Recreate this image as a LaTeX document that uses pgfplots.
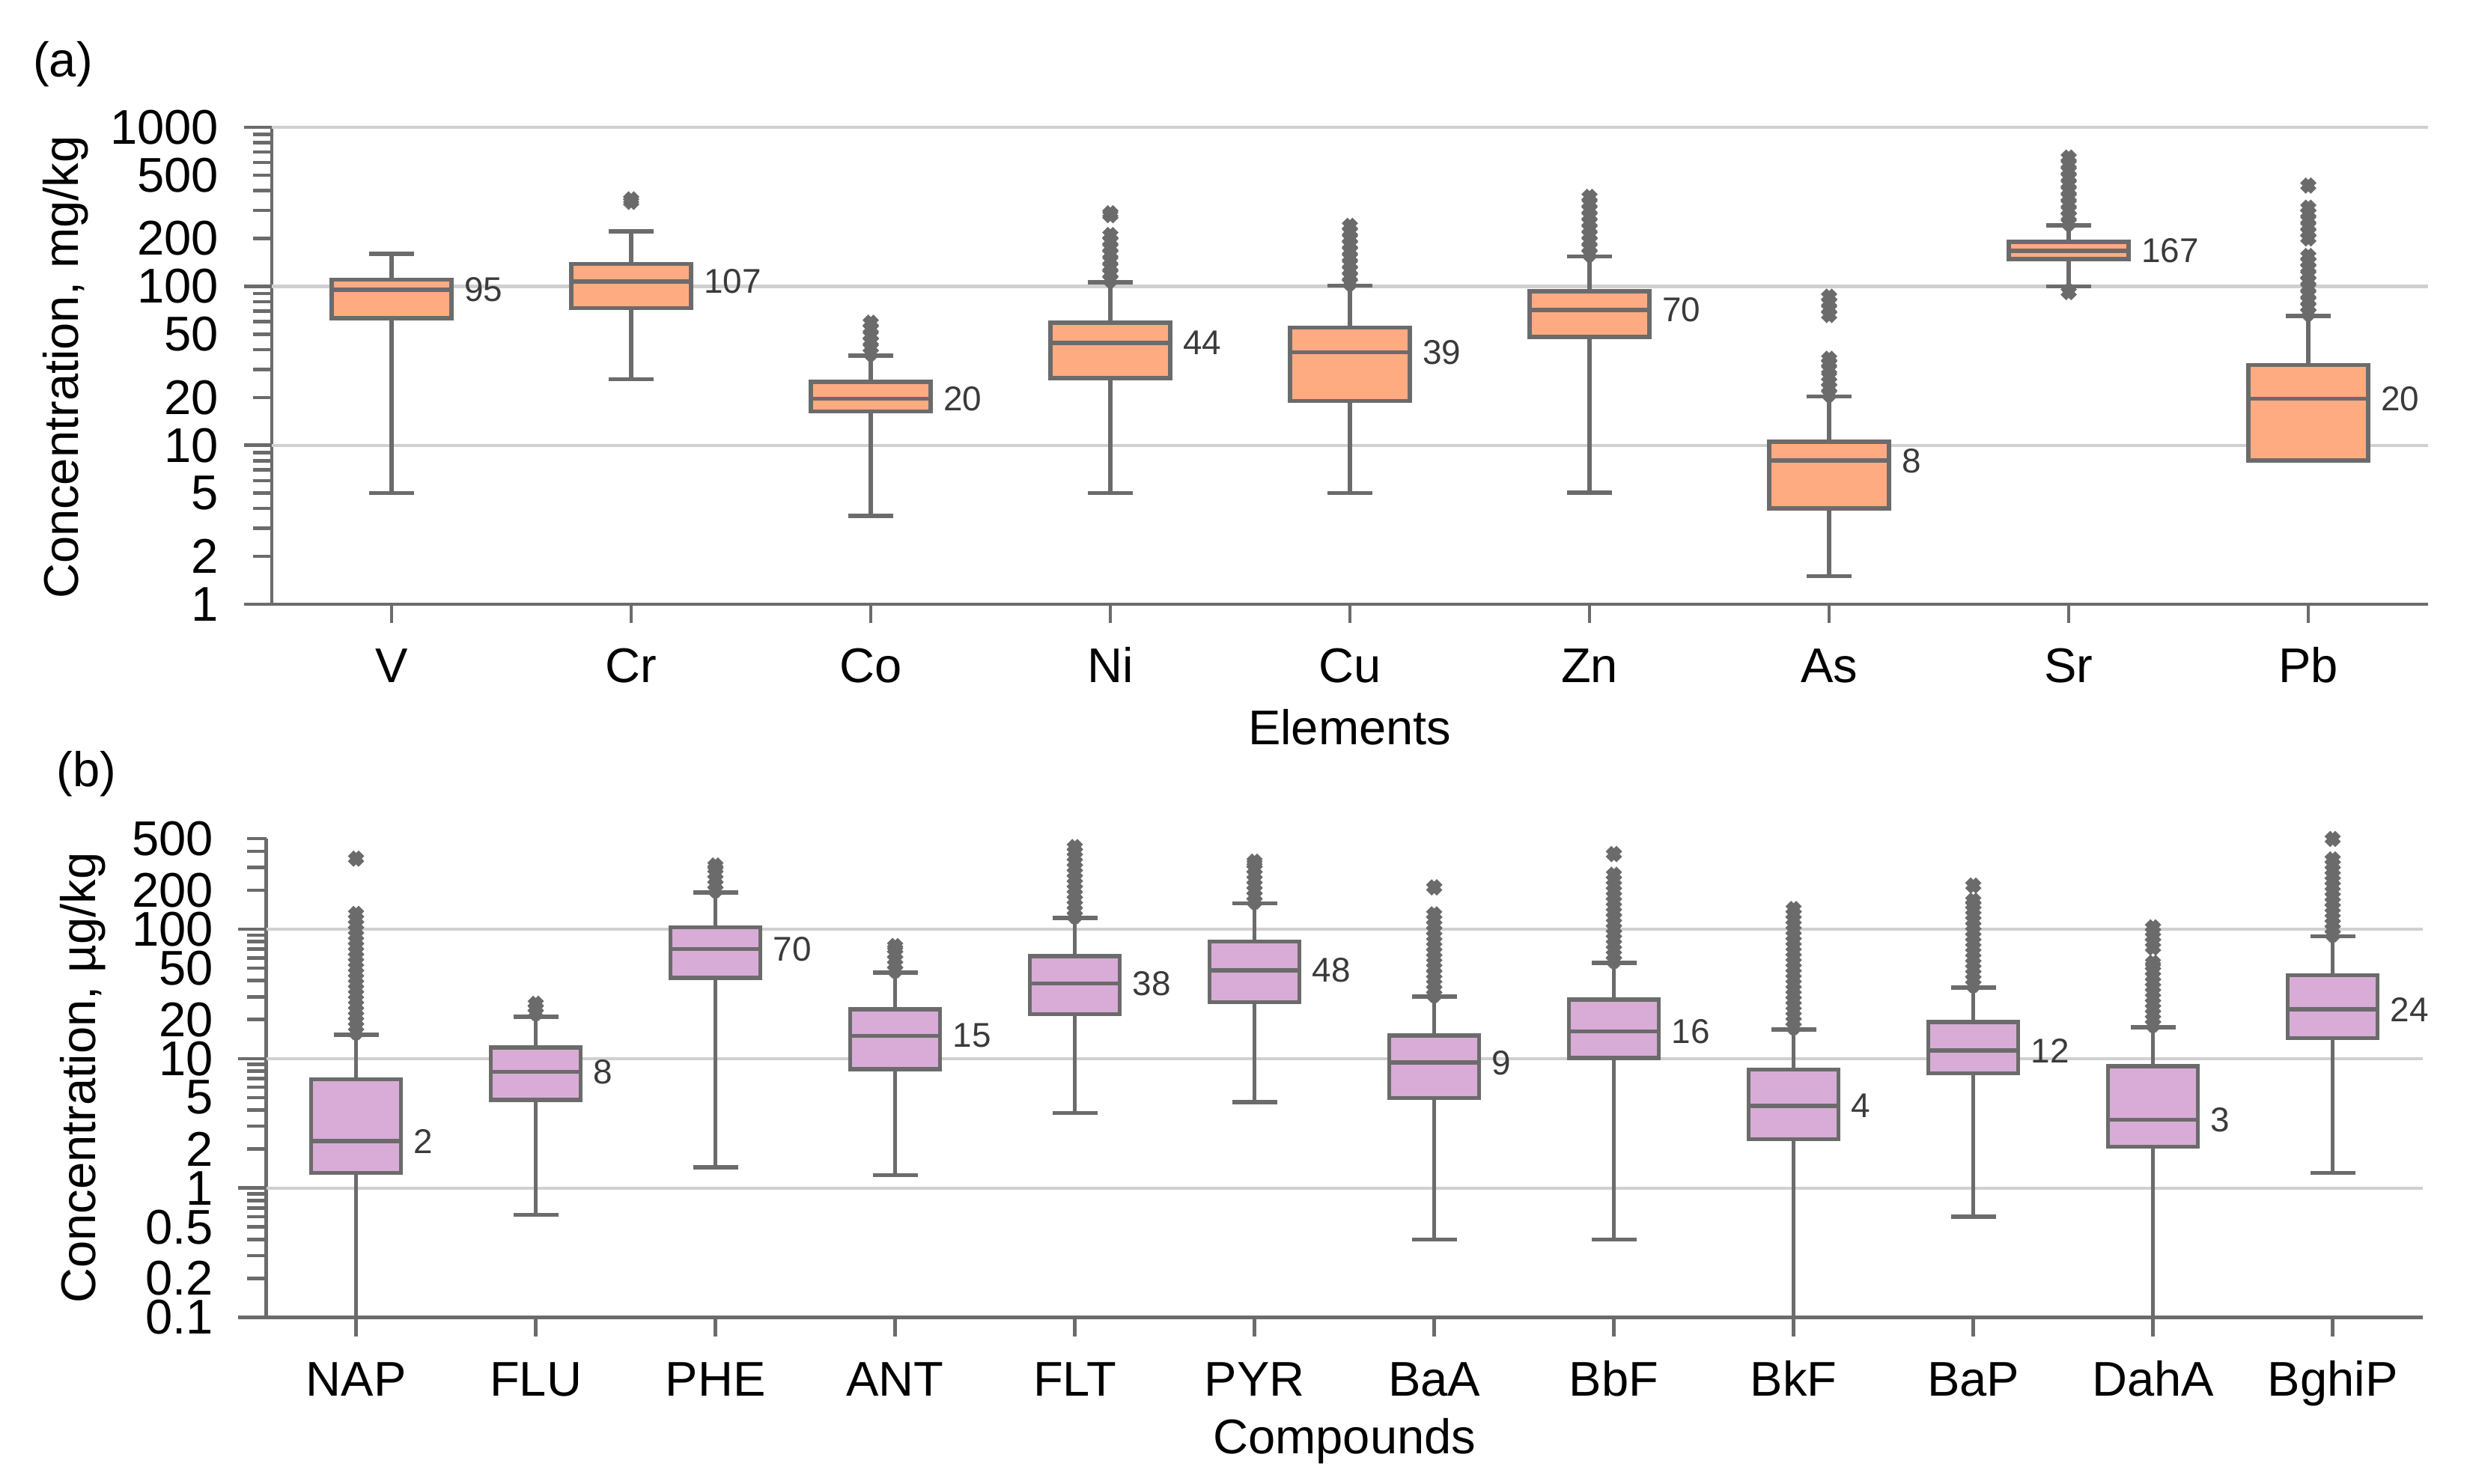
\documentclass[border=0pt]{standalone}
\usepackage{pgfplots}
\pgfplotsset{compat=1.18}
\usepackage{fontspec}
\setmainfont{Liberation Sans}
\definecolor{edge}{HTML}{6B6B6B}
\definecolor{gridc}{HTML}{D0D0D0}
\definecolor{orangef}{HTML}{FFAB82}
\definecolor{purplef}{HTML}{D8ACD6}
\definecolor{lab}{HTML}{3A3A3A}
% #1 position, #2 lower whisker, #3 lower quartile, #4 median, #5 upper quartile, #6 upper whisker
\newcommand\BOX[6]{%
 \pgfmathsetmacro\xa{#1-0.25}\pgfmathsetmacro\xb{#1+0.25}%
 \pgfmathsetmacro\wa{#1-\wke}\pgfmathsetmacro\wb{#1+\wke}%
 \addplot[draw=edge, line width=1.05pt, mark=none] coordinates {(#1,#5) (#1,#6)};
 \addplot[draw=edge, line width=1.05pt, mark=none] coordinates {(#1,#2) (#1,#3)};
 \addplot[draw=edge, line width=1.05pt, mark=none] coordinates {(\wa,#6) (\wb,#6)};
 \addplot[draw=edge, line width=1.05pt, mark=none] coordinates {(\wa,#2) (\wb,#2)};
 \addplot[fill=\boxfill, draw=edge, line width=1.05pt, mark=none] coordinates {(\xa,#3) (\xb,#3) (\xb,#5) (\xa,#5)} -- cycle;
 \addplot[draw=edge, line width=1.05pt, mark=none] coordinates {(\xa,#4) (\xb,#4)};
}
% #1 position, #2 outlier values
\newcommand\OUT[2]{%
 \addplot[only marks, mark=x, mark size=1.9pt, mark options={draw=edge, line width=2pt, solid}]
   table[row sep=\\, x expr=#1, y index=0] {y\\ #2};
}
\begin{document}
\fontsize{12.2pt}{14pt}\selectfont
\begin{tikzpicture}
\useasboundingbox (0,0) rectangle (617.8pt,-371.6pt);
% ---------------- (a) ----------------
\def\boxfill{orangef}\def\wke{0.095}
\begin{axis}[at={(68.06pt,-31.88pt)}, anchor=north west,
  scale only axis, width=540pt, height=119.44pt, ymode=log,
  xmin=-0.5, xmax=8.5, ymin=1, ymax=1000,
  axis lines=left, axis line style={-, draw=edge, line width=0.85pt},
  tick align=outside, major tick length=4.7pt, minor tick length=7pt,
  every tick/.style={draw=edge, line width=0.85pt},
  clip=false,
  xtick={0,...,8}, xticklabels={V,Cr,Co,Ni,Cu,Zn,As,Sr,Pb},
  xticklabel style={anchor=base, yshift=-14.9pt, font=\fontsize{12.2pt}{14pt}\selectfont},
  ytick={1,2,3,4,5,6,7,8,9,10,20,30,40,50,60,70,80,90,100,200,300,400,500,600,700,800,900,1000},
  yticklabels={1,2,{},{},5,{},{},{},{},10,20,{},{},50,{},{},{},{},100,200,{},{},500,{},{},{},{},1000},
  minor ytick={1,10,100,1000},
  yticklabel style={anchor=east, inner sep=0pt, xshift=-8.4pt, font=\fontsize{12.2pt}{14pt}\selectfont},
]
\addplot[gridc, line width=0.8pt, mark=none] coordinates {(-0.5,10) (8.5,10)};
\addplot[gridc, line width=0.8pt, mark=none] coordinates {(-0.5,100) (8.5,100)};
\addplot[gridc, line width=0.8pt, mark=none] coordinates {(-0.5,1000) (8.5,1000)};
\BOX{0}{5}{63}{95}{110}{160}
\BOX{1}{26}{73}{107}{138}{222}
\OUT{1}{340\\ 352\\}
\BOX{2}{3.6}{16.3}{19.6}{25}{36.6}
\OUT{2}{38\\ 41\\ 45\\ 49\\ 54\\ 59\\}
\BOX{3}{5}{26.5}{44}{59}{106}
\OUT{3}{110\\ 120\\ 132\\ 145\\ 160\\ 175\\ 192\\ 210\\ 280\\ 288\\}
\BOX{4}{5}{19}{38.5}{55}{101}
\OUT{4}{105\\ 115\\ 126\\ 138\\ 152\\ 167\\ 183\\ 200\\ 220\\ 240\\}
\BOX{5}{5.05}{48}{71}{93}{154}
\OUT{5}{160\\ 175\\ 192\\ 210\\ 230\\ 252\\ 276\\ 303\\ 332\\ 365\\}
\BOX{6}{1.5}{4.0}{8}{10.5}{20.3}
\OUT{6}{21\\ 23\\ 25\\ 27\\ 30\\ 33\\ 35\\ 66\\ 72\\ 79\\ 86\\}
\BOX{7}{100}{148}{167}{190}{242}
\OUT{7}{92\\ 250\\ 275\\ 300\\ 330\\ 363\\ 400\\ 440\\ 484\\ 532\\ 585\\ 645\\}
\BOX{8}{8.0}{8.0}{19.6}{32}{65}
\OUT{8}{68\\ 74\\ 81\\ 89\\ 98\\ 108\\ 118\\ 130\\ 142\\ 155\\ 200\\ 218\\ 238\\ 262\\ 288\\ 312\\ 430\\}
\addplot[draw=none, mark=none, nodes near coords, point meta=explicit symbolic,
  nodes near coords style={anchor=west, inner sep=0pt, xshift=3pt, text=lab, font=\fontsize{8.6pt}{10pt}\selectfont}]
  coordinates {(0.25,95)[95] (1.25,107)[107] (2.25,19.6)[20] (3.25,44)[44] (4.25,38.5)[39] (5.25,71)[70] (6.25,8)[8] (7.25,167)[167] (8.25,19.6)[20]};
\end{axis}
% ---------------- (b) ----------------
\def\boxfill{purplef}\def\wke{0.125}
\begin{axis}[at={(66.66pt,-210pt)}, anchor=north west,
  scale only axis, width=540pt, height=119.9pt, ymode=log,
  xmin=-0.5, xmax=11.5, ymin=0.1, ymax=500,
  axis lines=left, axis line style={-, draw=edge, line width=0.85pt},
  tick align=outside, major tick length=4.7pt, minor tick length=7pt,
  every tick/.style={draw=edge, line width=0.85pt},
  clip=false,
  xtick={0,...,11}, xticklabels={NAP,FLU,PHE,ANT,FLT,PYR,BaA,BbF,BkF,BaP,DahA,BghiP},
  xticklabel style={anchor=base, yshift=-14.9pt, font=\fontsize{12.2pt}{14pt}\selectfont},
  ytick={0.1,0.2,0.3,0.4,0.5,0.6,0.7,0.8,0.9,1,2,3,4,5,6,7,8,9,10,20,30,40,50,60,70,80,90,100,200,300,400,500},
  yticklabels={0.1,0.2,{},{},0.5,{},{},{},{},1,2,{},{},5,{},{},{},{},10,20,{},{},50,{},{},{},{},100,200,{},{},500},
  minor ytick={0.1,1,10,100},
  yticklabel style={anchor=east, inner sep=0pt, xshift=-8.4pt, font=\fontsize{12.2pt}{14pt}\selectfont},
]
\addplot[gridc, line width=0.8pt, mark=none] coordinates {(-0.5,1) (11.5,1)};
\addplot[gridc, line width=0.8pt, mark=none] coordinates {(-0.5,10) (11.5,10)};
\addplot[gridc, line width=0.8pt, mark=none] coordinates {(-0.5,100) (11.5,100)};
\BOX{0}{0.1}{1.31}{2.3}{6.9}{15.3}
\OUT{0}{16\\ 17.6\\ 19.4\\ 21.3\\ 23.4\\ 25.8\\ 28.4\\ 31.2\\ 34.3\\ 37.8\\ 41.5\\ 45.7\\ 50.3\\ 55.3\\ 60.8\\ 66.9\\ 73.6\\ 81\\ 89\\ 98\\ 108\\ 119\\ 131\\ 350\\}
\BOX{1}{0.62}{4.8}{7.9}{12.2}{21}
\OUT{1}{22.5\\ 24.5\\ 26.5\\}
\BOX{2}{1.45}{42}{70}{103}{192}
\OUT{2}{200\\ 220\\ 242\\ 266\\ 292\\ 310\\}
\BOX{3}{1.26}{8.3}{15}{24}{46}
\OUT{3}{48\\ 53\\ 58\\ 64\\ 70\\ 74\\}
\BOX{4}{3.8}{22}{38}{62}{122}
\OUT{4}{126\\ 139\\ 153\\ 168\\ 185\\ 203\\ 224\\ 246\\ 271\\ 298\\ 328\\ 360\\ 396\\ 430\\}
\BOX{5}{4.6}{27.2}{48}{80}{158}
\OUT{5}{163\\ 180\\ 198\\ 218\\ 240\\ 264\\ 290\\ 318\\ 332\\}
\BOX{6}{0.40}{4.95}{9.3}{15.1}{30}
\OUT{6}{31\\ 34\\ 37.5\\ 41\\ 45\\ 50\\ 55\\ 60\\ 66\\ 73\\ 80\\ 88\\ 97\\ 107\\ 118\\ 130\\ 210\\}
\BOX{7}{0.40}{10.1}{16.2}{28.5}{55}
\OUT{7}{57\\ 63\\ 69\\ 76\\ 84\\ 92\\ 101\\ 111\\ 122\\ 135\\ 148\\ 163\\ 179\\ 197\\ 217\\ 239\\ 263\\ 380\\}
\BOX{8}{0.1}{2.38}{4.3}{8.2}{16.8}
\OUT{8}{17.5\\ 19.3\\ 21.2\\ 23.3\\ 25.6\\ 28.2\\ 31\\ 34.1\\ 37.5\\ 41.3\\ 45.4\\ 50\\ 55\\ 60.5\\ 66.5\\ 73\\ 80.5\\ 88.5\\ 97.5\\ 107\\ 118\\ 130\\ 143\\}
\BOX{9}{0.6}{7.7}{11.5}{19.2}{35.4}
\OUT{9}{37\\ 40.7\\ 44.8\\ 49.3\\ 54.2\\ 59.6\\ 65.6\\ 72\\ 79\\ 87\\ 96\\ 105\\ 116\\ 128\\ 140\\ 154\\ 166\\ 217\\}
\BOX{10}{0.1}{2.09}{3.37}{8.7}{17.5}
\OUT{10}{18.3\\ 20.1\\ 22.1\\ 24.3\\ 26.7\\ 29.4\\ 32.3\\ 35.5\\ 39\\ 43\\ 47.3\\ 52\\ 55\\ 72\\ 79\\ 87\\ 95\\ 103\\}
\BOX{11}{1.31}{14.4}{24}{44}{88}
\OUT{11}{91\\ 100\\ 110\\ 121\\ 133\\ 146\\ 161\\ 177\\ 195\\ 214\\ 236\\ 259\\ 285\\ 314\\ 345\\ 497\\}
\addplot[draw=none, mark=none, nodes near coords, point meta=explicit symbolic,
  nodes near coords style={anchor=west, inner sep=0pt, xshift=3pt, text=lab, font=\fontsize{8.6pt}{10pt}\selectfont}]
  coordinates {(0.25,2.3)[2] (1.25,7.9)[8] (2.25,70)[70] (3.25,15)[15] (4.25,38)[38] (5.25,48)[48] (6.25,9.3)[9] (7.25,16.2)[16] (8.25,4.3)[4] (9.25,11.5)[12] (10.25,3.37)[3] (11.25,24)[24]};
\end{axis}
% ---------------- labels ----------------
\node[anchor=center] at (15.75pt,-16.1pt) {(a)};
\node[anchor=center] at (21.7pt,-193.8pt) {(b)};
\node[anchor=center, rotate=90] at (16.5pt,-92pt) {Concentration, mg/kg};
\node[anchor=center, rotate=90] at (20.8pt,-269.9pt) {Concentration, µg/kg};
\node[anchor=base] at (338pt,-186.4pt) {Elements};
\node[anchor=base] at (336.7pt,-364pt) {Compounds};
\end{tikzpicture}
\end{document}
